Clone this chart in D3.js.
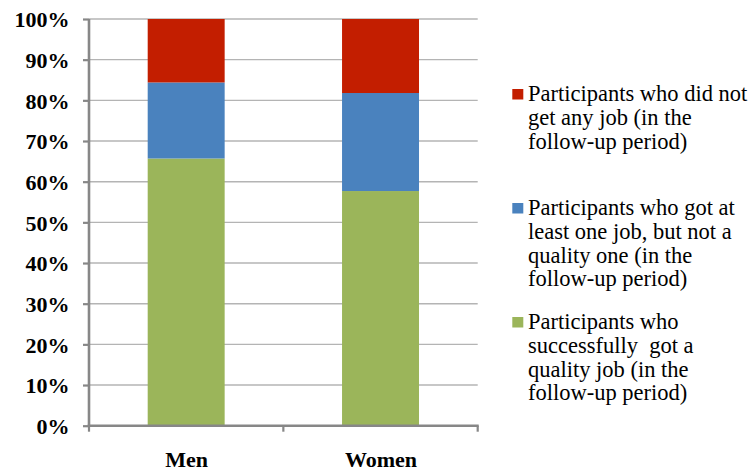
<!DOCTYPE html>
<html>
<head>
<meta charset="utf-8">
<script src="https://cdn.jsdelivr.net/npm/d3@7"></script>
</head>
<body style="margin:0">
<svg id="s" width="753" height="472" font-family="Liberation Serif"></svg>
<script>
const categories = ["Men", "Women"];
const seriesNames = ["quality", "notQuality", "noJob"];
const qualityJob = [65.7, 57.7];
const jobNotQuality = [18.7, 24.1];
const noJob = [15.6, 18.2];
const yTicks = [0, 10, 20, 30, 40, 50, 60, 70, 80, 90, 100];
const legendLabels = [
  ["Participants who did not", "get any job (in the", "follow-up period)"],
  ["Participants who got at", "least one job, but not a", "quality one (in the", "follow-up period)"],
  ["Participants who", "successfully  got a", "quality job (in the", "follow-up period)"]
];

const colors = { quality: "#9BB55A", notQuality: "#4A82BE", noJob: "#C31E00" };
const legendKeys = ["noJob", "notQuality", "quality"];
const FONT = "Liberation Serif";

const svg = d3.select("#s");
const pLeft = 89, pRight = 477.7, pTop = 19, pBottom = 425.7;

const x = d3.scaleBand().domain(categories).range([pLeft, pRight])
  .paddingInner(0.604).paddingOuter(0.302);
const xb = d3.scaleBand().domain(categories).range([pLeft, pRight]);
const y = d3.scaleLinear().domain([0, 100]).range([pBottom, pTop]);

// gridlines
svg.append("g").selectAll("line").data(yTicks.filter(d => d > 0)).join("line")
  .attr("x1", pLeft).attr("x2", pRight)
  .attr("y1", d => y(d)).attr("y2", d => y(d))
  .attr("stroke", "#b4b4b4").attr("stroke-width", 1.4);

// stacked bars
const rows = categories.map((c, i) => ({ cat: c, quality: qualityJob[i], notQuality: jobNotQuality[i], noJob: noJob[i] }));
const stack = d3.stack().keys(seriesNames)(rows);
svg.append("g").selectAll("g").data(stack).join("g")
  .attr("fill", s => colors[s.key])
  .selectAll("rect").data(s => s).join("rect")
  .attr("x", d => x(d.data.cat))
  .attr("width", x.bandwidth())
  .attr("y", d => y(d[1]))
  .attr("height", d => y(d[0]) - y(d[1]));

// y axis
const yAxis = d3.axisLeft(y).tickValues(yTicks).tickSize(6).tickFormat(d => d + "%");
const gy = svg.append("g").attr("transform", `translate(${pLeft},0)`).call(yAxis);
gy.attr("font-family", FONT).attr("font-size", 22);
gy.select(".domain").attr("stroke", "#878787").attr("stroke-width", 2.6).attr("d", `M0,${pTop}V${pBottom}`);
gy.selectAll(".tick line").attr("stroke", "#878787").attr("stroke-width", 2.2);
gy.selectAll(".tick text")
  .attr("x", -19.5).attr("dy", "0.36em")
  .attr("fill", "#000")
  .attr("font-family", FONT).attr("font-weight", "bold").attr("font-size", 22)
  .style("font-family", `"${FONT}"`);

// x axis
const gx = svg.append("g").attr("transform", `translate(0,${pBottom})`);
gx.append("line").attr("x1", pLeft - 1.3).attr("x2", pRight + 1)
  .attr("stroke", "#878787").attr("stroke-width", 2.6);
const bounds = [pLeft].concat(categories.map(c => xb(c) + xb.bandwidth()));
gx.selectAll("line.tk").data(bounds).join("line").attr("class", "tk")
  .attr("x1", d => d).attr("x2", d => d).attr("y1", 0).attr("y2", 6)
  .attr("stroke", "#878787").attr("stroke-width", 2.2);
gx.selectAll("text").data(categories).join("text")
  .attr("x", d => xb(d) + xb.bandwidth() / 2 + 0.5)
  .attr("y", 467 - pBottom)
  .attr("text-anchor", "middle")
  .attr("font-family", FONT).attr("font-weight", "bold").attr("font-size", 22)
  .style("font-family", `"${FONT}"`)
  .text(d => d);

// legend
const lg = svg.append("g");
const legendTop = 101, groupStep = 114, lineStep = 23.8;
legendKeys.forEach((k, i) => {
  const by = legendTop + i * groupStep;
  lg.append("rect").attr("x", 512.3).attr("y", by - 12).attr("width", 11).attr("height", 10.5)
    .attr("fill", colors[k]);
  legendLabels[i].forEach((line, j) => {
    lg.append("text").attr("x", 528).attr("y", by + j * lineStep)
      .attr("font-family", FONT).attr("font-size", 22.5).attr("fill", "#000")
      .style("font-family", `"${FONT}"`)
      .text(line.replace(/  /g, " \u00a0"));
  });
});
</script>
</body>
</html>
